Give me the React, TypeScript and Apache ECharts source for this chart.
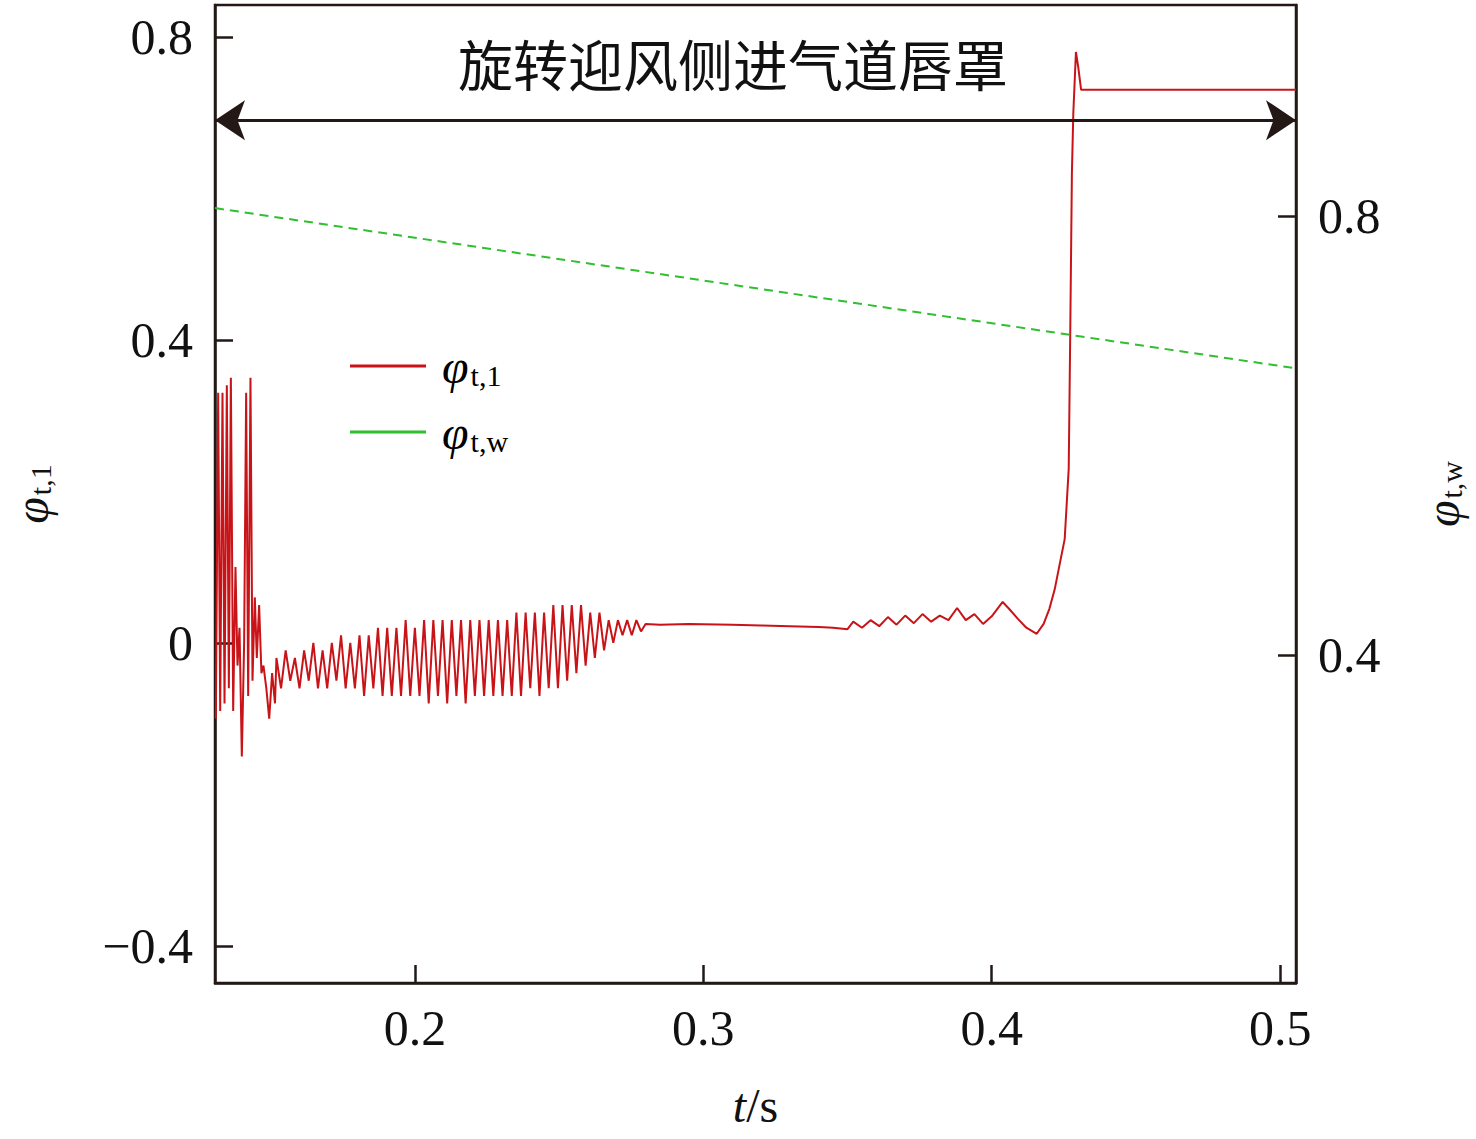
import { useEffect, useRef } from "react";
import * as echarts from "echarts";

// phi_t,1 (left axis): [t, value]
const redPoints: [number, number][] = [
  [0.1310, -0.10], [0.1318, 0.33], [0.1325, -0.09], [0.1333, 0.33], [0.1340, -0.08], [0.1348, 0.34],
  [0.1355, -0.06], [0.1362, 0.35], [0.1370, -0.09], [0.1378, 0.10], [0.1385, -0.03], [0.1392, 0.02],
  [0.1400, -0.15], [0.1408, 0.00], [0.1415, 0.33], [0.1422, -0.07], [0.1430, 0.35], [0.1437, -0.05],
  [0.1445, 0.06], [0.1452, -0.02], [0.1460, 0.05], [0.1468, -0.04], [0.1475, -0.03], [0.1485, -0.06],
  [0.1495, -0.10], [0.1505, -0.04], [0.1515, -0.08],
  [0.1520, -0.02], [0.1536, -0.06], [0.1552, -0.01], [0.1568, -0.05], [0.1584, -0.02], [0.1600, -0.06],
  [0.1616, -0.01], [0.1632, -0.05], [0.1648, 0.00], [0.1664, -0.06], [0.1680, -0.01], [0.1696, -0.06],
  [0.1712, 0.00], [0.1728, -0.05], [0.1744, 0.01], [0.1760, -0.06], [0.1776, 0.00], [0.1792, -0.06],
  [0.1808, 0.01], [0.1824, -0.07], [0.1840, 0.01], [0.1856, -0.06], [0.1872, 0.02], [0.1888, -0.07],
  [0.1904, 0.02], [0.1920, -0.07], [0.1936, 0.02], [0.1952, -0.07], [0.1968, 0.03], [0.1984, -0.07],
  [0.2000, 0.02], [0.2016, -0.07], [0.2032, 0.03], [0.2048, -0.08], [0.2064, 0.03], [0.2080, -0.07],
  [0.2096, 0.03], [0.2112, -0.08], [0.2128, 0.03], [0.2144, -0.07], [0.2160, 0.03], [0.2176, -0.08],
  [0.2192, 0.03], [0.2208, -0.07], [0.2224, 0.03], [0.2240, -0.07], [0.2256, 0.03], [0.2272, -0.07],
  [0.2288, 0.03], [0.2304, -0.07], [0.2320, 0.03], [0.2336, -0.07], [0.2352, 0.04], [0.2368, -0.07],
  [0.2384, 0.04], [0.2400, -0.06], [0.2416, 0.04], [0.2432, -0.07], [0.2448, 0.04], [0.2464, -0.06],
  [0.2480, 0.05], [0.2496, -0.06], [0.2512, 0.05], [0.2528, -0.05], [0.2544, 0.05], [0.2560, -0.04],
  [0.2576, 0.05], [0.2592, -0.03], [0.2608, 0.04], [0.2624, -0.02], [0.2640, 0.04], [0.2656, -0.01],
  [0.2672, 0.03], [0.2688, 0.00], [0.2704, 0.03], [0.2720, 0.01], [0.2736, 0.03], [0.2752, 0.01],
  [0.2768, 0.03], [0.2784, 0.015], [0.2800, 0.025],
  [0.285, 0.024], [0.295, 0.025], [0.310, 0.024], [0.320, 0.023], [0.330, 0.022], [0.340, 0.021],
  [0.345, 0.020], [0.350, 0.018], [0.352, 0.028], [0.355, 0.020], [0.358, 0.030], [0.361, 0.022],
  [0.364, 0.034], [0.367, 0.024], [0.370, 0.036], [0.373, 0.026], [0.376, 0.038], [0.379, 0.028],
  [0.382, 0.036], [0.385, 0.030], [0.388, 0.046], [0.391, 0.030], [0.394, 0.038], [0.397, 0.025],
  [0.400, 0.035], [0.4038, 0.054], [0.406, 0.045], [0.409, 0.032], [0.412, 0.020], [0.4156, 0.012],
  [0.418, 0.025], [0.420, 0.045], [0.4218, 0.07], [0.4253, 0.137], [0.4267, 0.23], [0.4272, 0.40],
  [0.4278, 0.62], [0.4283, 0.70], [0.4292, 0.78], [0.4300, 0.76], [0.4310, 0.73], [0.5055, 0.73],
];

// phi_t,w (right axis)
const greenPoints: [number, number][] = [[0.1307, 0.807], [0.5055, 0.661]];

const xTicks = [0.2, 0.3, 0.4, 0.5];
const leftTicks = [-0.4, 0, 0.4, 0.8];
const rightTicks = [0.4, 0.8];

const SERIF = "Liberation Serif, Times New Roman, serif";
const RED = "#c81418";
const GREEN = "#2fbf2f";

const nameRich = {
  phi: { fontFamily: SERIF, fontStyle: "italic", fontSize: 48, color: "#111" },
  sub: { fontFamily: SERIF, fontSize: 30, color: "#111", verticalAlign: "bottom", padding: [16, 0, 0, 2] },
};

const fmt = (v: number) => (v === 0 ? "0" : String(v).replace("-", "\u2212"));

export default function App() {
  const ref = useRef<HTMLDivElement | null>(null);

  useEffect(() => {
    if (!ref.current) return;
    const chart = echarts.init(ref.current, undefined, { renderer: "svg" });
    const axisLine = { show: true, onZero: false, lineStyle: { color: "#231815", width: 2.5 } };
    const axisTick = { inside: true, length: 18, lineStyle: { color: "#231815", width: 2.5 } };
    const label = { fontFamily: SERIF, fontSize: 50, color: "#111" };
    chart.setOption({
      animation: false,
      grid: {
        left: 215, right: 180, top: 5, bottom: 156, show: true, borderColor: "#231815", borderWidth: 2.5,
        containLabel: false, outerBoundsMode: "none",
      },
      xAxis: {
        type: "value", min: 0.1307, max: 0.5055,
        name: "{i|t}{n|/s}", nameLocation: "middle", nameGap: 98,
        nameTextStyle: { rich: { i: { fontFamily: SERIF, fontStyle: "italic", fontSize: 48, color: "#111" }, n: { fontFamily: SERIF, fontSize: 48, color: "#111" } } },
        axisLine, axisTick: { ...axisTick, customValues: xTicks },
        axisLabel: { ...label, customValues: xTicks, margin: 20, formatter: fmt },
        splitLine: { show: false },
      },
      yAxis: [
        {
          type: "value", min: -0.449, max: 0.842, position: "left",
          name: "{phi|φ}{sub|t,1}", nameLocation: "middle", nameGap: 160, nameRotate: 90,
          nameTextStyle: { rich: nameRich },
          axisLine, axisTick: { ...axisTick, customValues: leftTicks },
          axisLabel: { ...label, customValues: leftTicks, margin: 22, formatter: fmt },
          splitLine: { show: false },
        },
        {
          type: "value", min: 0.1011, max: 0.992, position: "right",
          name: "{phi|φ}{sub|t,w}", nameLocation: "middle", nameGap: 122, nameRotate: 90,
          nameTextStyle: { rich: nameRich },
          axisLine, axisTick: { ...axisTick, customValues: rightTicks },
          axisLabel: { ...label, customValues: rightTicks, margin: 22, formatter: fmt },
          splitLine: { show: false },
        },
      ],
      series: [
        {
          type: "line", yAxisIndex: 0, data: redPoints, showSymbol: false,
          lineStyle: { color: RED, width: 2 },
          markLine: {
            silent: true, symbol: ["arrow", "arrow"], symbolSize: [30, 30],
            lineStyle: { color: "#231815", width: 3, type: "solid" },
            label: { show: false },
            data: [[{ coord: [0.1307, 0.69] }, { coord: [0.5055, 0.69] }]],
          },
        },
        {
          type: "line", yAxisIndex: 1, data: greenPoints, showSymbol: false,
          lineStyle: { color: GREEN, width: 2, type: [9, 6] },
        },
      ],
      graphic: [
        { type: "text", left: 458, top: 34, style: { text: "旋转迎风侧进气道唇罩", font: "55px 'Noto Sans CJK SC'", fill: "#111" } },
        { type: "line", shape: { x1: 350, y1: 366, x2: 426, y2: 366 }, style: { stroke: RED, lineWidth: 3 } },
        { type: "line", shape: { x1: 350, y1: 432, x2: 426, y2: 432 }, style: { stroke: GREEN, lineWidth: 3 } },
        { type: "text", left: 442, top: 342, style: { rich: nameRich, text: "{phi|φ}{sub|t,1}" } },
        { type: "text", left: 442, top: 408, style: { rich: nameRich, text: "{phi|φ}{sub|t,w}" } },
      ],
    });
    return () => chart.dispose();
  }, []);

  return <div ref={ref} style={{ position: "absolute", left: 0, top: 0, width: 1476, height: 1139, background: "#fff" }} />;
}
